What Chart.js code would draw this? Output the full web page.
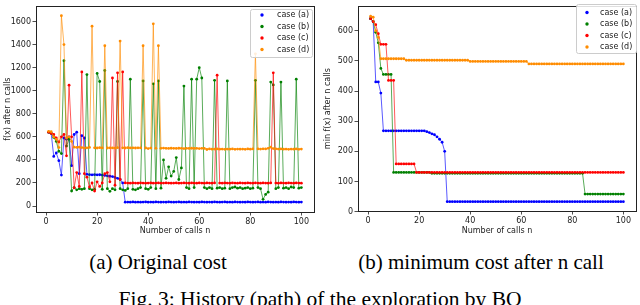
<!DOCTYPE html>
<html>
<head>
<meta charset="utf-8">
<script src="https://cdn.jsdelivr.net/npm/chart.js@4.4.1/dist/chart.umd.min.js"></script>
<style>
  body { margin: 0; background: #fff; }
  #wrap { position: relative; width: 640px; height: 305px; overflow: hidden; }
  canvas { position: absolute; top: 0; }
  .cap { position: absolute; font-family: "Liberation Serif", "DejaVu Serif", serif; color: #000;
         line-height: 1; white-space: nowrap; transform: translateX(-50%); }
</style>
</head>
<body>
<div id="wrap">
  <canvas id="left" width="320" height="245" style="left:0"></canvas>
  <canvas id="right" width="320" height="245" style="left:320px"></canvas>
  <div class="cap" style="left:158px; top:252px; font-size:21px">(a) Original cost</div>
  <div class="cap" style="left:481px; top:252px; font-size:21px">(b) minimum cost after n call</div>
  <div class="cap" style="left:320px; top:289px; font-size:21.5px">Fig. 3: History (path) of the exploration by BO</div>
</div>
<script>
// call index n
const calls = Array.from({ length: 100 }, (_, i) => i + 1);

// (a) original cost f(x) per call
const caseA = [
  640, 630, 430, 460, 393, 268, 590, 580, 600, 350,
  620, 640, 280, 610, 590, 275, 272, 270, 272, 270,
  271, 268, 265, 262, 258, 255, 248, 240, 230, 200,
  33, 34, 33, 35, 33, 34, 33, 34, 35, 33,
  34, 33, 35, 34, 33, 34, 33, 35, 34, 33,
  34, 35, 33, 34, 33, 35, 34, 33, 34, 33,
  35, 34, 33, 34, 33, 35, 34, 33, 34, 35,
  33, 34, 33, 35, 34, 33, 34, 33, 35, 34,
  33, 34, 35, 33, 34, 33, 35, 34, 33, 34,
  33, 35, 34, 33, 34, 33, 35, 34, 33, 34
];
const caseB = [
  640, 630, 595, 560, 475, 455, 1260, 520, 580, 130,
  160, 140, 150, 145, 150, 1140, 150, 140, 145, 1150,
  1080, 145, 1175, 150, 127, 150, 140, 1080, 150, 140,
  135, 150, 1100, 145, 140, 150, 160, 1085, 150, 145,
  160, 1060, 150, 1085, 155, 400, 240, 340, 260, 300,
  420, 230, 330, 1040, 160, 150, 1100, 160, 1100, 1200,
  1110, 160, 150, 160, 150, 1090, 155, 160, 150, 155,
  1085, 150, 160, 165, 155, 160, 150, 155, 160, 150,
  155, 1090, 160, 150, 58, 100, 120, 1075, 1050, 150,
  160, 1075, 155, 160, 150, 165, 160, 1100, 155, 160
];
const caseC = [
  640, 630, 620, 590, 555, 600, 620, 435, 1048, 600,
  158, 290, 170, 1163, 280, 250, 165, 200, 130, 210,
  170, 200, 280, 290, 210, 1110, 180, 1155, 230, 1163,
  200, 199, 198, 200, 199, 198, 200, 199, 198, 199,
  200, 198, 199, 200, 198, 199, 200, 199, 198, 199,
  200, 198, 199, 200, 199, 198, 200, 199, 198, 200,
  199, 198, 200, 199, 198, 200, 1135, 199, 198, 200,
  199, 198, 200, 199, 198, 200, 199, 198, 200, 199,
  198, 200, 199, 198, 200, 199, 198, 200, 1155, 199,
  198, 200, 199, 198, 200, 199, 198, 200, 199, 198
];
const caseD = [
  648, 645, 600, 578, 507, 1650, 1400, 590, 600, 560,
  510, 508, 510, 507, 502, 505, 508, 1560, 505, 503,
  506, 504, 1390, 503, 505, 504, 502, 506, 1430, 505,
  503, 506, 504, 505, 503, 505, 504, 1390, 503, 498,
  502, 1580, 500, 1390, 500, 502, 500, 499, 501, 500,
  499, 501, 500, 498, 500, 499, 501, 499, 500, 498,
  500, 499, 490, 495, 493, 494, 495, 493, 494, 492,
  494, 493, 495, 492, 494, 493, 494, 492, 495, 493,
  495, 1320, 495, 494, 496, 495, 500, 510, 498, 496,
  494, 495, 493, 494, 492, 494, 493, 495, 492, 494
];

// (b) minimum cost after n calls
const minA = [
  640, 630, 430, 430, 393, 268, 268, 268, 268, 268,
  268, 268, 268, 268, 268, 268, 268, 268, 268, 268,
  268, 268, 265, 262, 258, 255, 248, 240, 230, 200,
  33, 33, 33, 33, 33, 33, 33, 33, 33, 33,
  33, 33, 33, 33, 33, 33, 33, 33, 33, 33,
  33, 33, 33, 33, 33, 33, 33, 33, 33, 33,
  33, 33, 33, 33, 33, 33, 33, 33, 33, 33,
  33, 33, 33, 33, 33, 33, 33, 33, 33, 33,
  33, 33, 33, 33, 33, 33, 33, 33, 33, 33,
  33, 33, 33, 33, 33, 33, 33, 33, 33, 33
];
const minB = [
  640, 630, 595, 560, 475, 455, 455, 455, 455, 130,
  130, 130, 130, 130, 130, 130, 130, 130, 130, 130,
  130, 130, 130, 130, 127, 127, 127, 127, 127, 127,
  127, 127, 127, 127, 127, 127, 127, 127, 127, 127,
  127, 127, 127, 127, 127, 127, 127, 127, 127, 127,
  127, 127, 127, 127, 127, 127, 127, 127, 127, 127,
  127, 127, 127, 127, 127, 127, 127, 127, 127, 127,
  127, 127, 127, 127, 127, 127, 127, 127, 127, 127,
  127, 127, 127, 127, 58, 58, 58, 58, 58, 58,
  58, 58, 58, 58, 58, 58, 58, 58, 58, 58
];
const minC = [
  640, 630, 620, 590, 555, 555, 555, 435, 435, 435,
  158, 158, 158, 158, 158, 158, 158, 158, 130, 130,
  130, 130, 130, 130, 130, 130, 130, 130, 130, 130,
  130, 130, 130, 130, 130, 130, 130, 130, 130, 130,
  130, 130, 130, 130, 130, 130, 130, 130, 130, 130,
  130, 130, 130, 130, 130, 130, 130, 130, 130, 130,
  130, 130, 130, 130, 130, 130, 130, 130, 130, 130,
  130, 130, 130, 130, 130, 130, 130, 130, 130, 130,
  130, 130, 130, 130, 130, 130, 130, 130, 130, 130,
  130, 130, 130, 130, 130, 130, 130, 130, 130, 130
];
const minD = [
  648, 645, 600, 578, 507, 507, 507, 507, 507, 507,
  507, 507, 507, 507, 502, 502, 502, 502, 502, 502,
  502, 502, 502, 502, 502, 502, 502, 502, 502, 502,
  502, 502, 502, 502, 502, 502, 502, 502, 502, 498,
  498, 498, 498, 498, 498, 498, 498, 498, 498, 498,
  498, 498, 498, 498, 498, 498, 498, 498, 498, 498,
  498, 498, 490, 490, 490, 490, 490, 490, 490, 490,
  490, 490, 490, 490, 490, 490, 490, 490, 490, 490,
  490, 490, 490, 490, 490, 490, 490, 490, 490, 490,
  490, 490, 490, 490, 490, 490, 490, 490, 490, 490
];

const seriesLabels = ["case (a)", "case (b)", "case (c)", "case (d)"];
const seriesColors = ["#0000ff", "#008000", "#ff0000", "#ff8c00"];
const lineColors = ["rgba(0,0,255,0.65)", "rgba(0,128,0,0.65)", "rgba(255,0,0,0.65)", "rgba(255,140,0,0.65)"];

const xTicks = [0, 20, 40, 60, 80, 100];
const leftYTicks = [0, 200, 400, 600, 800, 1000, 1200, 1400, 1600];
const rightYTicks = [0, 100, 200, 300, 400, 500, 600];

Chart.defaults.font.family = "'DejaVu Sans', sans-serif";
Chart.defaults.font.size = 8;
Chart.defaults.color = "#222";

function toPoints(values) {
    return values.map((v, i) => ({ x: calls[i], y: v }));
}

// full axes box + matplotlib-style legend inside the plot
const framePlugin = {
    id: "frame",
    afterDraw(chart, args, o) {
        const { ctx, chartArea: a } = chart;
        ctx.save();
        ctx.strokeStyle = "#222";
        ctx.lineWidth = 1;
        ctx.strokeRect(Math.round(a.left) + 0.5, Math.round(a.top) + 0.5,
            Math.round(a.right - a.left), Math.round(a.bottom - a.top));

        ctx.fillStyle = "rgba(255,255,255,0.85)";
        ctx.strokeStyle = "#cccccc";
        ctx.beginPath();
        ctx.roundRect(o.x + 0.5, o.y + 0.5, o.w, o.h, 2);
        ctx.fill();
        ctx.stroke();

        ctx.font = "8px 'DejaVu Sans'";
        ctx.textBaseline = "middle";
        chart.data.datasets.forEach((ds, i) => {
            const y = o.y + o.first + i * o.step;
            ctx.fillStyle = ds.pointBackgroundColor;
            ctx.beginPath();
            ctx.arc(o.x + o.mark, y, 1.7, 0, Math.PI * 2);
            ctx.fill();
            ctx.fillStyle = "#222";
            ctx.fillText(ds.label, o.x + o.text, y);
        });
        ctx.restore();
    }
};

function axisStyle() {
    return {
        grid: { display: true, drawOnChartArea: false, drawTicks: true, tickLength: 3.5, color: "#222", lineWidth: 0.8 },
        border: { display: false }
    };
}

function buildChart(id, sets, yMin, yMax, yTicks, yTitle, box, legend) {
    return new Chart(document.getElementById(id), {
        type: "line",
        data: {
            datasets: sets.map((values, i) => ({
                label: seriesLabels[i],
                data: toPoints(values),
                borderColor: lineColors[i],
                borderWidth: 1,
                pointRadius: 1.4,
                pointBorderWidth: 0,
                pointBackgroundColor: seriesColors[i],
                tension: 0,
                fill: false,
                order: sets.length - i
            }))
        },
        options: {
            responsive: false,
            animation: false,
            devicePixelRatio: 1,
            layout: { padding: { left: 0, top: box.top, right: box.right, bottom: 0 } },
            plugins: { legend: { display: false }, tooltip: { enabled: false }, frame: legend },
            scales: {
                x: {
                    type: "linear",
                    min: -3.95,
                    max: 104.95,
                    afterBuildTicks: s => { s.ticks = xTicks.map(v => ({ value: v })); },
                    afterFit: s => { s.height = box.xh; },
                    ticks: { autoSkip: false, maxRotation: 0, padding: 1.5, callback: v => String(v) },
                    title: { display: true, text: "Number of calls n", padding: { top: 0, bottom: 9 } },
                    ...axisStyle()
                },
                y: {
                    type: "linear",
                    min: yMin,
                    max: yMax,
                    afterBuildTicks: s => { s.ticks = yTicks.map(v => ({ value: v })); },
                    afterFit: s => { s.width = box.yw; },
                    ticks: { autoSkip: false, padding: 1.5, callback: v => String(v) },
                    title: { display: true, text: yTitle, padding: { top: 3, bottom: 0 } },
                    ...axisStyle()
                }
            }
        },
        plugins: [framePlugin]
    });
}

buildChart("left", [caseA, caseB, caseC, caseD], -52, 1732, leftYTicks, "f(x) after n calls",
    { top: 5, right: 6, xh: 33, yw: 36 },
    { x: 250, y: 9, w: 62, h: 48, mark: 12, text: 27, first: 6, step: 11.5 });

buildChart("right", [minA, minB, minC, minD], 2, 681, rightYTicks, "min f(x) after n calls",
    { top: 2, right: 2, xh: 34, yw: 38 },
    { x: 256, y: 4, w: 60, h: 49, mark: 11, text: 24, first: 8.5, step: 11.5 });
</script>
</body>
</html>
